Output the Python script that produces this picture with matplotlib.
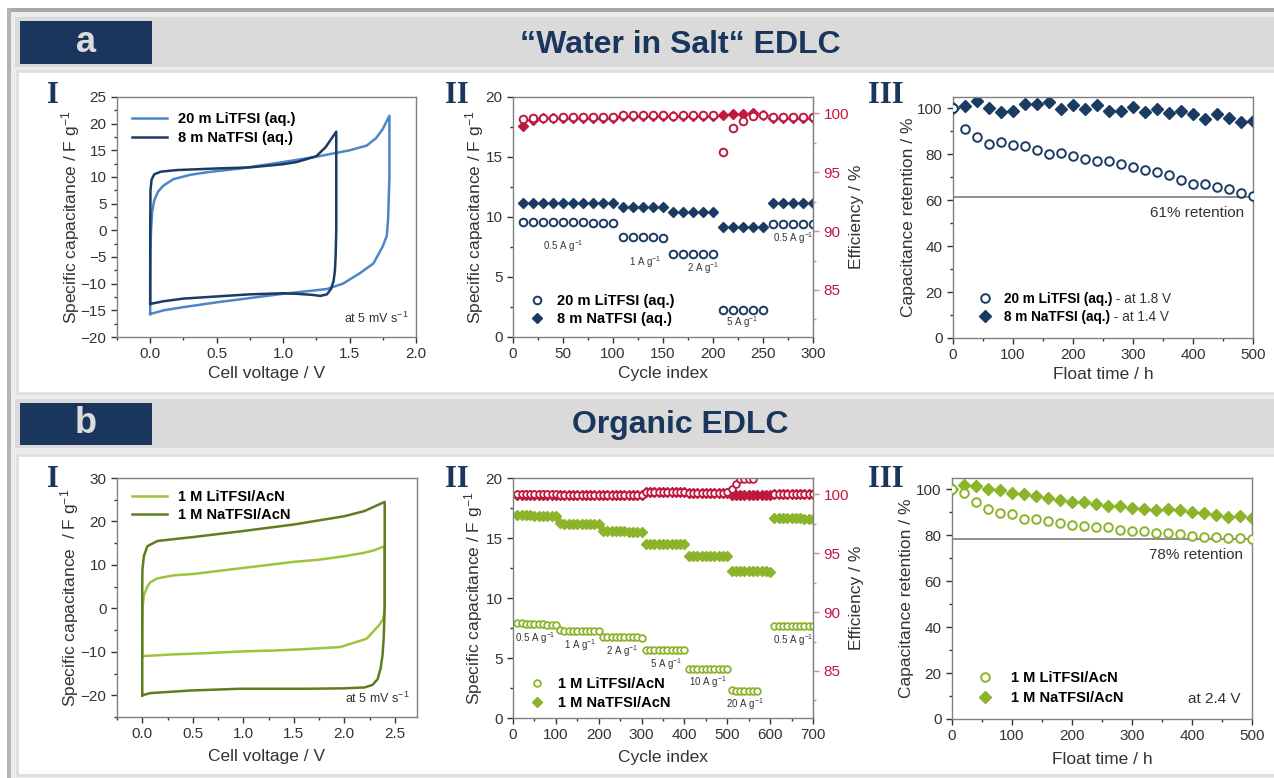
import numpy as np
import matplotlib.pyplot as plt
from matplotlib.patches import Rectangle
from matplotlib.ticker import MultipleLocator

plt.rcParams['font.family'] = ['Liberation Sans', 'DejaVu Sans']
plt.rcParams['mathtext.fontset'] = 'custom'
plt.rcParams['mathtext.rm'] = 'Liberation Sans'
plt.rcParams['mathtext.bf'] = 'Liberation Sans:bold'
plt.rcParams['mathtext.it'] = 'Liberation Sans:italic'
plt.rcParams['axes.unicode_minus'] = True

# ---------------- data: a) water in salt ----------------
# a-I: cyclic voltammograms (closed loops), V and F/g
cv_li_aq_v = [0.0, 0.0, 0.002, 0.006, 0.015, 0.03, 0.06, 0.1, 0.175, 0.3, 0.43, 0.68, 1.0, 1.25,
              1.5, 1.63, 1.7, 1.75, 1.8, 1.8, 1.8, 1.795, 1.79, 1.78, 1.75, 1.68, 1.58, 1.45,
              1.33, 1.15, 1.0, 0.75, 0.5, 0.25, 0.1, 0.0]
cv_li_aq_c = [-15.7, -10.0, -4.0, 0.0, 3.5, 5.6, 7.3, 8.4, 9.6, 10.4, 10.9, 11.6, 12.8, 13.8,
              15.0, 15.9, 17.3, 19.0, 21.5, 15.0, 10.0, 6.0, 2.0, -1.0, -3.0, -6.2, -8.0, -10.0,
              -11.0, -11.5, -11.9, -12.7, -13.5, -14.4, -15.0, -15.7]
cv_na_aq_v = [0.0, 0.0, 0.002, 0.01, 0.03, 0.08, 0.2, 0.5, 0.75, 1.0, 1.1, 1.17, 1.25, 1.32,
              1.4, 1.4, 1.4, 1.395, 1.39, 1.38, 1.36, 1.33, 1.28, 1.22, 1.1, 1.0, 0.75, 0.5,
              0.25, 0.1, 0.0]
cv_na_aq_c = [-13.8, 0.0, 7.5, 9.5, 10.5, 11.0, 11.3, 11.6, 11.8, 12.4, 12.8, 13.3, 13.9, 15.6,
              18.5, 10.0, 0.0, -5.0, -7.5, -9.5, -11.0, -12.0, -12.3, -12.1, -11.9, -11.8,
              -12.0, -12.4, -12.8, -13.3, -13.8]

# a-II: rate test
aq_cycles = np.arange(10, 301, 10)
aq_cap_li = [9.62, 9.61, 9.6, 9.59, 9.57, 9.56, 9.55, 9.54, 9.53, 9.52,
             8.32, 8.31, 8.3, 8.3, 8.29, 6.92, 6.91, 6.9, 6.9, 6.9,
             2.22, 2.25, 2.25, 2.26, 2.26, 9.45, 9.44, 9.43, 9.42, 9.42]
aq_cap_na = [11.15, 11.16, 11.15, 11.16, 11.16, 11.15, 11.15, 11.15, 11.15, 11.15,
             10.85, 10.84, 10.84, 10.84, 10.84, 10.42, 10.41, 10.41, 10.41, 10.4,
             9.15, 9.14, 9.14, 9.14, 9.14, 11.14, 11.14, 11.14, 11.14, 11.14]
aq_eff_li = [99.5, 99.6, 99.65, 99.65, 99.7, 99.7, 99.7, 99.7, 99.7, 99.7,
             99.85, 99.85, 99.85, 99.85, 99.85, 99.8, 99.85, 99.85, 99.85, 99.85,
             96.75, 98.8, 99.4, 99.8, 99.85, 99.7, 99.7, 99.7, 99.7, 99.7]
aq_eff_na = [98.9, 99.45, 99.6, 99.6, 99.65, 99.65, 99.65, 99.65, 99.65, 99.65,
             99.8, 99.8, 99.8, 99.8, 99.8, 99.75, 99.8, 99.8, 99.8, 99.8,
             99.9, 99.95, 99.95, 100.0, 99.85, 99.65, 99.65, 99.65, 99.65, 99.65]
aq_rate_labels = ['0.5 A g$^{-1}$', '1 A g$^{-1}$', '2 A g$^{-1}$', '5 A g$^{-1}$', '0.5 A g$^{-1}$']
aq_rate_x = [50, 132, 190, 229, 280]
aq_rate_y = [7.6, 6.25, 5.75, 1.2, 8.25]

# a-III: float test
float_time = np.arange(0, 501, 20)
aq_ret_li = [100, 91.1, 87.5, 84.7, 85.2, 83.9, 83.6, 82.0, 80.2, 80.7, 79.5, 78.1, 77.0,
             77.3, 75.9, 74.6, 73.4, 72.2, 71.2, 68.8, 67.3, 67.0, 66.0, 64.8, 63.2, 61.9]
aq_ret_na = [100, 101.0, 103.1, 100.4, 98.3, 98.7, 102.0, 102.0, 102.8, 99.7, 101.3, 99.6,
             101.5, 98.7, 99.1, 100.6, 98.5, 99.6, 98.0, 99.0, 97.5, 95.5, 97.5, 95.9, 94.0, 94.6]
aq_ret_limit = 61.3

# ---------------- data: b) organic ----------------
cv_li_org_v = [0.0, 0.0, 0.005, 0.016, 0.05, 0.08, 0.15, 0.31, 0.5, 0.75, 1.0, 1.25, 1.5, 1.75,
               2.0, 2.2, 2.3, 2.4, 2.4, 2.4, 2.395, 2.385, 2.34, 2.22, 1.96, 1.6, 1.3, 1.0,
               0.64, 0.3, 0.0]
cv_li_org_c = [-11.0, -5.0, 0.5, 3.0, 5.0, 6.0, 6.9, 7.6, 7.9, 8.6, 9.3, 10.0, 10.7, 11.2,
               12.0, 12.8, 13.4, 14.3, 8.0, 2.0, -1.0, -2.5, -4.0, -7.0, -8.9, -9.4, -9.7,
               -9.9, -10.3, -10.6, -11.0]
cv_na_org_v = [0.0, 0.0, 0.002, 0.016, 0.05, 0.15, 0.3, 0.5, 1.0, 1.5, 2.0, 2.2, 2.4, 2.4,
               2.4, 2.39, 2.38, 2.36, 2.33, 2.28, 2.2, 2.0, 1.63, 0.97, 0.48, 0.08, 0.0]
cv_na_org_c = [-20.0, 5.0, 9.0, 12.0, 14.3, 15.5, 15.9, 16.4, 17.8, 19.3, 21.2, 22.4, 24.5,
               10.0, 0.0, -7.0, -10.5, -13.8, -16.3, -17.6, -18.2, -18.4, -18.5, -18.5,
               -18.9, -19.5, -20.0]

org_cycles = np.arange(10, 701, 10)
org_cap_li = [7.9, 7.88, 7.86, 7.85, 7.83, 7.82, 7.8, 7.79, 7.77, 7.76,
              7.3, 7.29, 7.28, 7.28, 7.27, 7.27, 7.26, 7.26, 7.25, 7.25,
              6.74, 6.73, 6.73, 6.72, 6.72, 6.72, 6.71, 6.71, 6.71, 6.7,
              5.66, 5.66, 5.65, 5.65, 5.65, 5.65, 5.64, 5.64, 5.64, 5.64,
              4.12, 4.12, 4.11, 4.11, 4.11, 4.1, 4.1, 4.1, 4.1, 4.1,
              2.3, 2.29, 2.29, 2.28, 2.28, 2.28, 2.28, np.nan, np.nan, np.nan,
              7.68, 7.67, 7.66, 7.66, 7.65, 7.65, 7.65, 7.64, 7.64, 7.64]
org_cap_na = [16.95, 16.92, 16.9, 16.88, 16.86, 16.85, 16.84, 16.82, 16.81, 16.8,
              16.22, 16.2, 16.2, 16.19, 16.18, 16.18, 16.17, 16.17, 16.16, 16.16,
              15.58, 15.57, 15.56, 15.56, 15.55, 15.55, 15.54, 15.54, 15.53, 15.53,
              14.52, 14.51, 14.51, 14.5, 14.5, 14.5, 14.49, 14.49, 14.49, 14.48,
              13.52, 13.51, 13.51, 13.5, 13.5, 13.5, 13.49, 13.49, 13.49, 13.48,
              12.24, 12.23, 12.23, 12.22, 12.22, 12.22, 12.21, 12.21, 12.21, 12.2,
              16.66, 16.65, 16.65, 16.64, 16.64, 16.63, 16.63, 16.62, 16.62, 16.62]
org_eff_li = [100.0, 100.0, 100.0, 100.0, 100.0, 100.0, 100.0, 100.0, 100.0, 100.0,
              99.95, 99.95, 99.95, 99.95, 99.95, 99.95, 99.95, 99.95, 99.95, 99.95,
              99.95, 99.95, 99.95, 99.95, 99.95, 99.95, 99.95, 99.95, 99.95, 99.95,
              100.25, 100.25, 100.25, 100.25, 100.25, 100.25, 100.25, 100.25, 100.25, 100.25,
              100.15, 100.15, 100.15, 100.15, 100.15, 100.15, 100.15, 100.15, 100.15, 100.2,
              100.45, 100.85, 101.3, 101.3, 101.3, 101.3, np.nan, np.nan, np.nan, np.nan,
              100.08, 100.08, 100.08, 100.08, 100.08, 100.08, 100.08, 100.08, 100.08, 100.08]
org_eff_na = [99.98, 99.98, 99.98, 99.98, 99.98, 99.98, 99.98, 99.98, 99.98, 99.98,
              99.93, 99.93, 99.93, 99.93, 99.93, 99.93, 99.93, 99.93, 99.93, 99.93,
              99.93, 99.93, 99.93, 99.93, 99.93, 99.93, 99.93, 99.93, 99.93, 99.93,
              100.22, 100.22, 100.22, 100.22, 100.22, 100.22, 100.22, 100.22, 100.22, 100.22,
              100.12, 100.12, 100.12, 100.12, 100.12, 100.12, 100.12, 100.12, 100.12, 100.12,
              99.97, 99.97, 99.97, 99.97, 99.97, 99.97, 99.97, 99.97, 99.97, 99.97,
              100.05, 100.05, 100.05, 100.05, 100.05, 100.05, 100.05, 100.05, 100.05, 100.05]
org_rate_labels = ['0.5 A g$^{-1}$', '1 A g$^{-1}$', '2 A g$^{-1}$', '5 A g$^{-1}$',
                   '10 A g$^{-1}$', '20 A g$^{-1}$', '0.5 A g$^{-1}$']
org_rate_x = [51, 156, 254, 357, 455, 541, 653]
org_rate_y = [6.67, 6.1, 5.6, 4.5, 3.0, 1.17, 6.5]

org_ret_li = [100, 98.6, 94.5, 91.3, 89.6, 89.1, 87.2, 87.0, 86.1, 85.2, 84.5, 84.1, 83.8,
              83.5, 82.5, 82.0, 81.7, 81.2, 81.0, 80.7, 79.9, 79.4, 79.3, 79.0, 78.7, 78.6]
org_ret_na = [100, 102.0, 101.4, 100.3, 99.6, 98.6, 98.1, 97.2, 96.5, 95.5, 94.6, 94.5, 93.6,
              93.0, 92.8, 92.0, 91.4, 91.0, 91.6, 91.2, 90.4, 89.6, 88.7, 88.0, 88.3, 87.5]
org_ret_limit = 78.5

# ---------------- style ----------------
NAVY = '#1b365d'
DARK = '#1c3b63'
BLUE = '#4a86c8'
RED = '#c0193f'
PINK = '#d98a9c'
GREEN = '#8cb42a'
LGREEN = '#9cc43c'
DGREEN = '#5e7d1f'
SPINE = '#808080'
TXT = '#333333'

W, H = 1274, 778
fig = plt.figure(figsize=(W / 100, H / 100), dpi=100)


def box(x0, y0, x1, y1, **kw):
    fig.patches.append(Rectangle((x0 / W, 1 - y1 / H), (x1 - x0) / W, (y1 - y0) / H,
                                 transform=fig.transFigure, figure=fig, zorder=-5, **kw))


def add_ax(x0, y0, x1, y1):
    ax = fig.add_axes([x0 / W, 1 - y1 / H, (x1 - x0) / W, (y1 - y0) / H])
    for s in ax.spines.values():
        s.set_color(SPINE)
        s.set_linewidth(1.0)
    ax.tick_params(direction='out', length=4, width=1, colors=TXT, labelsize=11,
                   right=False, top=False)
    ax.tick_params(which='minor', direction='out', length=2.5, width=1, colors=TXT,
                   right=False, top=False)
    return ax


def twin_eff(ax):
    ax2 = ax.twinx()
    ax2.set_ylim(81.0, 101.4)
    ax2.yaxis.set_major_locator(MultipleLocator(5))
    ax2.yaxis.set_minor_locator(MultipleLocator(2.5))
    ax2.set_yticks([85, 90, 95, 100])
    for k, s in ax2.spines.items():
        s.set_visible(k == 'right')
    ax2.spines['right'].set_color(PINK)
    ax2.tick_params(axis='y', direction='out', length=4, width=1, colors=PINK,
                    labelcolor=RED, labelsize=11)
    ax2.tick_params(axis='y', which='minor', direction='out', length=2.5, width=1, colors=PINK)
    ax2.set_ylabel('Efficiency / %', fontsize=12.5, color=TXT)
    ax2.yaxis.set_label_coords(1.12, 0.5)
    return ax2


# ---------------- background ----------------
box(11, 12, W, H, facecolor='#ececec', edgecolor='none')
box(7, 8, W, 12, facecolor='#a8a8a8', edgecolor='none')
box(7, 8, 11, H, facecolor='#b4b4b4', edgecolor='none')
for y0, y1 in [(17, 67), (399, 448)]:
    box(15, y0, W, y1, facecolor='#dadada', edgecolor='none')
    box(20, y0 + 4, 152, y1 - 3, facecolor=NAVY, edgecolor='none')
for y0, y1 in [(71, 393), (455, 775)]:
    box(17, y0, W + 2, y1, facecolor='white', edgecolor='#dedede', linewidth=2)

fig.text(86 / W, 1 - 42 / H, 'a', ha='center', va='center', color='#dcdcdc',
         fontsize=26, fontweight='bold')
fig.text(86 / W, 1 - 424 / H, 'b', ha='center', va='center', color='#dcdcdc',
         fontsize=26, fontweight='bold')
fig.text(680 / W, 1 - 45 / H, '\u201cWater in Salt\u201c EDLC', ha='center', va='center',
         color=NAVY, fontsize=23, fontweight='bold')
fig.text(680 / W, 1 - 425 / H, 'Organic EDLC', ha='center', va='center',
         color=NAVY, fontsize=23, fontweight='bold')

for x, y, lab in [(47, 103, 'I'), (445, 103, 'II'), (868, 103, 'III'),
                  (47, 487, 'I'), (445, 487, 'II'), (868, 487, 'III')]:
    fig.text(x / W, 1 - y / H, lab, ha='left', va='baseline', color=NAVY,
             fontsize=22, fontweight='bold', family='Liberation Serif')

ylab_cap = 'Specific capacitance / F g$^{-1}$'

# ---------------- a-I ----------------
ax = add_ax(117, 97, 416, 337)
ax.plot(cv_li_aq_v, cv_li_aq_c, color=BLUE, lw=1.8, label='20 m LiTFSI (aq.)')
ax.plot(cv_na_aq_v, cv_na_aq_c, color=DARK, lw=1.8, label='8 m NaTFSI (aq.)')
ax.set_xlim(-0.25, 2.0)
ax.set_ylim(-20, 25)
ax.xaxis.set_major_locator(MultipleLocator(0.5))
ax.xaxis.set_minor_locator(MultipleLocator(0.25))
ax.yaxis.set_major_locator(MultipleLocator(5))
ax.yaxis.set_minor_locator(MultipleLocator(2.5))
ax.xaxis.set_major_formatter(plt.FormatStrFormatter('%.1f'))
ax.set_xlabel('Cell voltage / V', fontsize=12.5, color=TXT)
ax.set_ylabel(ylab_cap, fontsize=12.5, color=TXT)
ax.xaxis.set_label_coords(0.5, -0.12)
ax.yaxis.set_label_coords(-0.118, 0.5)
ax.legend(loc='upper left', bbox_to_anchor=(0.03, 0.96), frameon=False, borderaxespad=0,
          handlelength=2.4, handletextpad=0.8, labelspacing=0.3,
          prop={'weight': 'bold', 'size': 10.5})
ax.text(0.975, 0.045, 'at 5 mV s$^{-1}$', transform=ax.transAxes, ha='right', va='bottom',
        fontsize=9, color=TXT)

# ---------------- a-II ----------------
ax = add_ax(513, 97, 813, 337)
ax2 = twin_eff(ax)
ax2.plot(aq_cycles, aq_eff_na, 'D', color=RED, ms=5.5, mec=RED, zorder=2)
ax2.plot(aq_cycles, aq_eff_li, 'o', color=RED, ms=5.5, mfc='white', mew=1.4, zorder=3)
ax.plot(aq_cycles, aq_cap_li, 'o', color=DARK, ms=5.5, mfc='white', mew=1.4,
        label='20 m LiTFSI (aq.)')
ax.plot(aq_cycles, aq_cap_na, 'D', color=DARK, ms=5.5, label='8 m NaTFSI (aq.)')
ax.set_xlim(0, 300)
ax.set_ylim(0, 20)
ax.xaxis.set_major_locator(MultipleLocator(50))
ax.xaxis.set_minor_locator(MultipleLocator(25))
ax.yaxis.set_major_locator(MultipleLocator(5))
ax.yaxis.set_minor_locator(MultipleLocator(2.5))
ax.set_xlabel('Cycle index', fontsize=12.5, color=TXT)
ax.set_ylabel(ylab_cap, fontsize=12.5, color=TXT)
ax.xaxis.set_label_coords(0.5, -0.12)
ax.yaxis.set_label_coords(-0.09, 0.5)
ax.legend(loc='lower left', bbox_to_anchor=(0.035, 0.02), frameon=False, borderaxespad=0,
          handlelength=1.0, handletextpad=0.9, labelspacing=0.3,
          prop={'weight': 'bold', 'size': 10.5})
for x, y, t in zip(aq_rate_x, aq_rate_y, aq_rate_labels):
    ax.text(x, y, t, ha='center', va='center', fontsize=7, color=TXT)
ax.set_zorder(ax2.get_zorder() + 1)
ax.patch.set_visible(False)

# ---------------- a-III ----------------
ax = add_ax(953, 97, 1253, 338)
ax.axhline(aq_ret_limit, color='#7a7a7a', lw=1.2, zorder=1)
ax.plot(float_time, aq_ret_na, 'D', color=DARK, ms=6.5, label='8 m NaTFSI (aq.)', zorder=2)
ax.plot(float_time, aq_ret_li, 'o', color=DARK, ms=6.2, mfc='white', mew=1.4,
        label='20 m LiTFSI (aq.)', zorder=3)
ax.set_xlim(0, 500)
ax.set_ylim(0, 105)
ax.xaxis.set_major_locator(MultipleLocator(100))
ax.xaxis.set_minor_locator(MultipleLocator(50))
ax.yaxis.set_major_locator(MultipleLocator(20))
ax.yaxis.set_minor_locator(MultipleLocator(10))
ax.set_xlabel('Float time / h', fontsize=12.5, color=TXT)
ax.set_ylabel('Capacitance retention / %', fontsize=12.5, color=TXT)
ax.xaxis.set_label_coords(0.5, -0.12)
ax.yaxis.set_label_coords(-0.125, 0.5)
h, l = ax.get_legend_handles_labels()
leg = ax.legend(h[::-1], l[::-1], loc='lower left', bbox_to_anchor=(0.065, 0.035),
                frameon=False, borderaxespad=0, handlelength=1.0, handletextpad=0.9,
                labelspacing=0.3, prop={'weight': 'bold', 'size': 9.8})
for t, extra in zip(leg.get_texts(), [' - at 1.8 V', ' - at 1.4 V']):
    ax.annotate(extra, xy=(1, 0), xycoords=t, ha='left', va='bottom',
                fontsize=9.8, color=TXT, zorder=6)
ax.text(0.97, 54.5, '61% retention', transform=ax.get_yaxis_transform(), ha='right',
        va='center', fontsize=11, color=TXT)

# ---------------- b-I ----------------
ax = add_ax(117, 478, 417, 717)
ax.plot(cv_li_org_v, cv_li_org_c, color=LGREEN, lw=1.8, label='1 M LiTFSI/AcN')
ax.plot(cv_na_org_v, cv_na_org_c, color=DGREEN, lw=1.8, label='1 M NaTFSI/AcN')
ax.set_xlim(-0.25, 2.72)
ax.set_ylim(-25, 30)
ax.xaxis.set_major_locator(MultipleLocator(0.5))
ax.xaxis.set_minor_locator(MultipleLocator(0.25))
ax.yaxis.set_major_locator(MultipleLocator(10))
ax.yaxis.set_minor_locator(MultipleLocator(5))
ax.xaxis.set_major_formatter(plt.FormatStrFormatter('%.1f'))
ax.set_xlabel('Cell voltage / V', fontsize=12.5, color=TXT)
ax.set_ylabel('Specific capacitance  / F g$^{-1}$', fontsize=12.5, color=TXT)
ax.xaxis.set_label_coords(0.5, -0.135)
ax.yaxis.set_label_coords(-0.12, 0.5)
ax.legend(loc='upper left', bbox_to_anchor=(0.03, 0.975), frameon=False, borderaxespad=0,
          handlelength=2.4, handletextpad=0.8, labelspacing=0.3,
          prop={'weight': 'bold', 'size': 10.5})
ax.text(0.975, 0.045, 'at 5 mV s$^{-1}$', transform=ax.transAxes, ha='right', va='bottom',
        fontsize=9, color=TXT)

# ---------------- b-II ----------------
ax = add_ax(513, 478, 813, 718)
ax2 = twin_eff(ax)
ax2.plot(org_cycles, org_eff_na, 'D', color=RED, ms=5, zorder=2)
ax2.plot(org_cycles, org_eff_li, 'o', color=RED, ms=4.8, mfc='white', mew=1.3, zorder=3)
ax.plot(org_cycles, org_cap_li, 'o', color=GREEN, ms=4.8, mfc='white', mew=1.3,
        label='1 M LiTFSI/AcN')
ax.plot(org_cycles, org_cap_na, 'D', color=GREEN, ms=5.5, label='1 M NaTFSI/AcN')
ax.set_xlim(0, 700)
ax.set_ylim(0, 20)
ax.xaxis.set_major_locator(MultipleLocator(100))
ax.xaxis.set_minor_locator(MultipleLocator(50))
ax.yaxis.set_major_locator(MultipleLocator(5))
ax.yaxis.set_minor_locator(MultipleLocator(2.5))
ax.set_xlabel('Cycle index', fontsize=12.5, color=TXT)
ax.set_ylabel(ylab_cap, fontsize=12.5, color=TXT)
ax.xaxis.set_label_coords(0.5, -0.135)
ax.yaxis.set_label_coords(-0.092, 0.5)
ax.legend(loc='lower left', bbox_to_anchor=(0.035, 0.01), frameon=False, borderaxespad=0,
          handlelength=1.0, handletextpad=1.0, labelspacing=0.35,
          prop={'weight': 'bold', 'size': 10.5})
for x, y, t in zip(org_rate_x, org_rate_y, org_rate_labels):
    ax.text(x, y, t, ha='center', va='center', fontsize=7, color=TXT)
ax.set_zorder(ax2.get_zorder() + 1)
ax.patch.set_visible(False)

# ---------------- b-III ----------------
ax = add_ax(952, 478, 1252, 719)
ax.axhline(org_ret_limit, color='#7a7a7a', lw=1.2, zorder=1)
ax.plot(float_time, org_ret_na, 'D', color=GREEN, ms=6.5, label='1 M NaTFSI/AcN', zorder=2)
ax.plot(float_time, org_ret_li, 'o', color=GREEN, ms=6.2, mfc='white', mew=1.4,
        label='1 M LiTFSI/AcN', zorder=3)
ax.set_xlim(0, 500)
ax.set_ylim(0, 105)
ax.xaxis.set_major_locator(MultipleLocator(100))
ax.xaxis.set_minor_locator(MultipleLocator(50))
ax.yaxis.set_major_locator(MultipleLocator(20))
ax.yaxis.set_minor_locator(MultipleLocator(10))
ax.set_xlabel('Float time / h', fontsize=12.5, color=TXT)
ax.set_ylabel('Capacitance retention / %', fontsize=12.5, color=TXT)
ax.xaxis.set_label_coords(0.5, -0.135)
ax.yaxis.set_label_coords(-0.125, 0.5)
h, l = ax.get_legend_handles_labels()
ax.legend(h[::-1], l[::-1], loc='lower left', bbox_to_anchor=(0.065, 0.035), frameon=False,
          borderaxespad=0, handlelength=1.0, handletextpad=1.3, labelspacing=0.4,
          prop={'weight': 'bold', 'size': 10.5})
ax.text(0.97, 71.4, '78% retention', transform=ax.get_yaxis_transform(), ha='right',
        va='center', fontsize=11, color=TXT)
ax.text(0.96, 8.7, 'at 2.4 V', transform=ax.get_yaxis_transform(), ha='right',
        va='center', fontsize=11, color=TXT)

fig.savefig('out.png', dpi=100)
